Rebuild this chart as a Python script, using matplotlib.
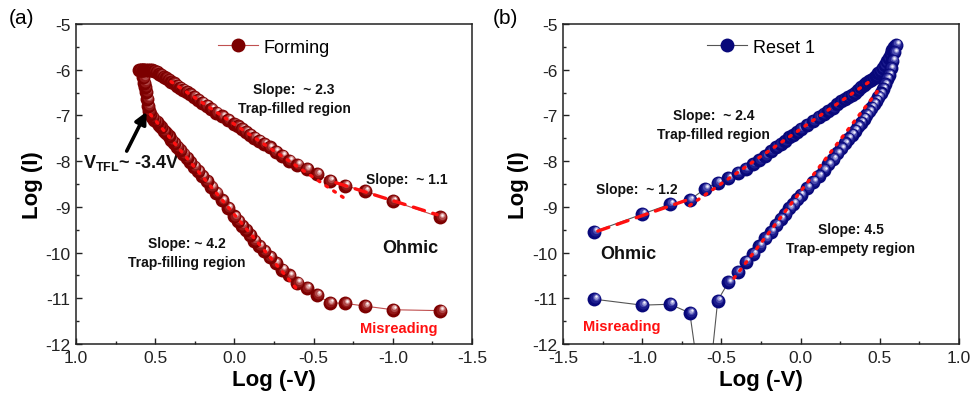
"""Forming / Reset 1 log-log I-V curves with SCLC slope fits."""

import matplotlib
matplotlib.use("Agg")
import matplotlib.pyplot as plt
import numpy as np
from matplotlib.lines import Line2D
from matplotlib.ticker import MultipleLocator
from matplotlib.transforms import ScaledTranslation

plt.rcParams["font.family"] = ["Liberation Sans", "DejaVu Sans"]
plt.rcParams["axes.unicode_minus"] = False
plt.rcParams["mathtext.fontset"] = "custom"
plt.rcParams["mathtext.rm"] = "Liberation Sans:bold"
plt.rcParams["mathtext.bf"] = "Liberation Sans:bold"

# ---- data: sweep voltages (V) and log10 current ----
# Forming: up-sweep on the lower branch, compliance at 1 uA, down-sweep on the upper branch
FORM_V = [0.05, 0.10, 0.15, 0.20, 0.25, 0.30, 0.35, 0.40, 0.45, 0.50,
          0.55, 0.60, 0.65, 0.70, 0.75, 0.80, 0.85, 0.90, 0.95, 1.00,
          1.1, 1.2, 1.3, 1.4, 1.5, 1.6, 1.7, 1.8, 1.9, 2.0,
          2.1, 2.2, 2.3, 2.4, 2.5, 2.6, 2.7, 2.8, 2.9, 3.0,
          3.1, 3.2, 3.3, 3.4, 3.45, 3.5, 3.55, 3.6, 3.65, 3.7,
          3.75, 3.8, 3.9, 4.0,
          3.9, 3.8, 3.7, 3.6, 3.5, 3.4, 3.3,
          3.2, 3.1, 3.0, 2.9, 2.8, 2.7, 2.6, 2.5, 2.4, 2.3,
          2.2, 2.1, 2.0, 1.9, 1.8, 1.7, 1.6, 1.5, 1.4, 1.3,
          1.2, 1.1, 1.00, 0.95, 0.90, 0.85, 0.80, 0.75, 0.70, 0.65,
          0.60, 0.55, 0.50, 0.45, 0.40, 0.35, 0.30, 0.25, 0.20, 0.15,
          0.10, 0.05]
FORM_LOGI = [-11.27, -11.25, -11.17, -11.11, -11.10, -10.93, -10.78, -10.66, -10.50, -10.37,
             -10.23, -10.10, -9.97, -9.86, -9.74, -9.62, -9.51, -9.41, -9.31, -9.21,
             -9.03, -8.86, -8.70, -8.57, -8.44, -8.33, -8.22, -8.12, -8.02, -7.93,
             -7.84, -7.76, -7.68, -7.60, -7.53, -7.46, -7.39, -7.33, -7.26, -7.20,
             -7.14, -7.09, -7.03, -6.97, -6.90, -6.79, -6.64, -6.49, -6.38, -6.28,
             -6.17, -6.00, -6.00, -6.00,
             -6.00, -6.00, -6.00, -6.00, -6.00, -6.00, -6.00,
             -6.02, -6.05, -6.09, -6.12, -6.15, -6.19, -6.23, -6.26, -6.30, -6.35,
             -6.39, -6.44, -6.49, -6.54, -6.60, -6.66, -6.72, -6.79, -6.86, -6.94,
             -7.02, -7.10, -7.19, -7.24, -7.30, -7.36, -7.42, -7.49, -7.55, -7.63,
             -7.70, -7.79, -7.88, -7.99, -8.08, -8.17, -8.28, -8.43, -8.54, -8.65,
             -8.87, -9.23]

# Reset 1: up-sweep on the upper branch, return on the steep lower branch
RESET_V = [0.05, 0.10, 0.15, 0.20, 0.25, 0.30, 0.35, 0.40, 0.45, 0.50,
           0.55, 0.60, 0.65, 0.70, 0.75, 0.80, 0.85, 0.90, 0.95, 1.00,
           1.1, 1.2, 1.3, 1.4, 1.5, 1.6, 1.7, 1.8, 1.9, 2.0,
           2.1, 2.2, 2.3, 2.4, 2.5, 2.6, 2.7, 2.8, 2.9, 3.0,
           3.1, 3.2, 3.3, 3.4, 3.5, 3.6, 3.7, 3.8, 3.9, 4.0,
           3.9, 3.8, 3.7, 3.6, 3.5, 3.4, 3.3, 3.2, 3.1, 3.0,
           2.9, 2.8, 2.7, 2.6, 2.5, 2.4, 2.3, 2.2, 2.1, 2.0,
           1.9, 1.8, 1.7, 1.6, 1.5, 1.4, 1.3, 1.2, 1.1, 1.00,
           0.95, 0.90, 0.85, 0.80, 0.75, 0.70, 0.65, 0.60, 0.55, 0.50,
           0.45, 0.40, 0.35, 0.30, 0.25, 0.20, 0.15, 0.10, 0.05]
RESET_LOGI = [-9.54, -9.16, -8.94, -8.85, -8.60, -8.47, -8.37, -8.26, -8.17, -8.06,
              -7.97, -7.88, -7.77, -7.69, -7.62, -7.55, -7.48, -7.42, -7.36, -7.30,
              -7.21, -7.12, -7.04, -6.97, -6.90, -6.83, -6.76, -6.68, -6.63, -6.60,
              -6.56, -6.50, -6.44, -6.38, -6.33, -6.29, -6.25, -6.22, -6.18, -6.13,
              -6.08, -6.03, -5.97, -5.90, -5.82, -5.74, -5.65, -5.57, -5.50, -5.45,
              -5.62, -5.80, -5.97, -6.12, -6.20, -6.32, -6.42, -6.52, -6.60, -6.68,
              -6.75, -6.83, -6.91, -6.99, -7.07, -7.16, -7.24, -7.33, -7.42, -7.51,
              -7.61, -7.72, -7.83, -7.95, -8.07, -8.20, -8.33, -8.45, -8.58, -8.74,
              -8.83, -8.93, -9.03, -9.15, -9.27, -9.40, -9.54, -9.69, -9.85, -10.03,
              -10.20, -10.43, -10.65, -11.05, -13.70, -11.32, -11.13, -11.15, -11.02]

# linear fits (log-V, log-I end points)
FORM_FIT_TF_X, FORM_FIT_TF_Y = [0.40, -0.69], [-6.26, -8.80]      # slope ~2.3
FORM_FIT_OHM_X, FORM_FIT_OHM_Y = [-0.64, -1.28], [-8.47, -9.17]   # slope ~1.1
FORM_FIT_TFL_X, FORM_FIT_TFL_Y = [0.53, -0.39], [-6.98, -10.78]   # slope ~4.2
RESET_FIT_OHM_X, RESET_FIT_OHM_Y = [-1.28, -0.70], [-9.53, -8.83]  # slope ~1.2
RESET_FIT_TF_X, RESET_FIT_TF_Y = [-0.70, 0.46], [-8.97, -6.20]     # slope ~2.4
RESET_FIT_TE_X, RESET_FIT_TE_Y = [-0.42, 0.49], [-10.56, -6.45]    # slope 4.5

MS = 10.0
RED_SHADES = ["#7c0000", "#931818", "#b04848", "#dba0a0", "#fdf2f2"]
BLUE_SHADES = ["#08087a", "#1d1d8e", "#4a4aae", "#a0a0d8", "#f2f2fc"]
FIT_RED = "#ff1010"

fig = plt.figure(figsize=(9.77, 4.06), dpi=100)
ax_a = fig.add_axes([0.0778, 0.1502, 0.4053, 0.7882])
ax_b = fig.add_axes([0.5762, 0.1502, 0.4053, 0.7882])


def draw_balls(ax, xs, ys, shades, z0=3.0):
    """Shaded spheres: dark base plus offset highlight discs, drawn point by point."""
    layers = [(7.2, 0.5, 0.7), (5.2, 0.9, 1.3), (3.3, 1.2, 1.7), (1.7, 1.4, 2.0)]
    for i, (x, y) in enumerate(zip(xs, ys)):
        z = z0 + i * 1e-3
        ax.plot([x], [y], "o", ms=MS, mfc=shades[0], mec="none", zorder=z)
        for k, (ms, dx, dy) in enumerate(layers):
            tr = ax.transData + ScaledTranslation(dx / 72, dy / 72, fig.dpi_scale_trans)
            ax.plot([x], [y], "o", ms=ms, mfc=shades[k + 1], mec="none",
                    zorder=z + (k + 1) * 1e-4, transform=tr)


def style_axes(ax, xlim, xticks):
    ax.set_xlim(*xlim)
    ax.set_ylim(-12, -5)
    ax.set_xticks(xticks)
    ax.set_xticklabels([f"{t:.1f}" for t in xticks])
    ax.set_yticks(range(-12, -4))
    ax.xaxis.set_minor_locator(MultipleLocator(0.25))
    ax.yaxis.set_minor_locator(MultipleLocator(0.5))
    ax.tick_params(which="both", direction="in", top=False, right=False,
                   width=1.0, labelsize=12.5, colors="#222222")
    ax.tick_params(which="major", length=4.5, pad=4)
    ax.tick_params(which="minor", length=2.5)
    for s in ax.spines.values():
        s.set_linewidth(1.1)
        s.set_color("#222222")
    ax.set_xlabel("Log (-V)", fontsize=16, fontweight="bold", labelpad=3)
    ax.set_ylabel("Log (I)", fontsize=16, fontweight="bold", labelpad=2)


def fit_line(ax, xs, ys, dotted=True):
    ls = (0, (0.6, 2.2)) if dotted else (0, (3.5, 2.6))
    ax.plot(xs, ys, color=FIT_RED, lw=2.4, ls=ls, dash_capstyle="round",
            solid_capstyle="round", zorder=20)


# ---- (a) Forming ----
fx = np.log10(FORM_V)
ax_a.plot(fx, FORM_LOGI, color="#c05050", lw=0.8, zorder=2)
draw_balls(ax_a, fx, FORM_LOGI, RED_SHADES)
fit_line(ax_a, FORM_FIT_TF_X, FORM_FIT_TF_Y)
fit_line(ax_a, FORM_FIT_TFL_X, FORM_FIT_TFL_Y)
fit_line(ax_a, FORM_FIT_OHM_X, FORM_FIT_OHM_Y, dotted=False)
style_axes(ax_a, (1.0, -1.5), [1.0, 0.5, 0.0, -0.5, -1.0, -1.5])

kw = dict(fontsize=10, fontweight="bold", ha="center", va="center", color="#111111")
ax_a.text(-0.376, -6.42, "Slope:  ~ 2.3", **kw)
ax_a.text(-0.376, -6.84, "Trap-filled region", **kw)
ax_a.text(-1.09, -8.39, "Slope:  ~ 1.1", **kw)
ax_a.text(0.30, -9.80, "Slope: ~ 4.2", **kw)
ax_a.text(0.30, -10.21, "Trap-filling region", **kw)
ax_a.text(-1.11, -9.89, "Ohmic", fontsize=13, fontweight="bold", ha="center",
          va="center", color="#111111")
ax_a.text(-1.035, -11.64, "Misreading", fontsize=10.5, fontweight="bold",
          ha="center", va="center", color=FIT_RED)
ax_a.text(0.955, -8.02, r"V$_{\mathbf{TFL}}$~ -3.4V", fontsize=13,
          fontweight="bold", ha="left", va="center", color="#111111")
ax_a.annotate("", xy=(0.555, -6.92), xytext=(0.68, -7.78),
              arrowprops=dict(arrowstyle="-|>,head_length=0.7,head_width=0.35",
                              color="black", lw=2.6, shrinkA=0, shrinkB=0),
              zorder=25)

h_a = Line2D([], [], color="#c05050", lw=0.8, marker="o", ms=MS,
             mfc=RED_SHADES[0], mec="none")
ax_a.legend([h_a], ["Forming"], loc="upper center", bbox_to_anchor=(0.5, 1.005),
            frameon=False, fontsize=13, handlelength=2.2, handletextpad=0.3)

# ---- (b) Reset 1 ----
rx = np.log10(RESET_V)
ax_b.plot(rx, RESET_LOGI, color="#555555", lw=0.8, zorder=2)
draw_balls(ax_b, rx, RESET_LOGI, BLUE_SHADES)
fit_line(ax_b, RESET_FIT_TF_X, RESET_FIT_TF_Y)
fit_line(ax_b, RESET_FIT_TE_X, RESET_FIT_TE_Y)
fit_line(ax_b, RESET_FIT_OHM_X, RESET_FIT_OHM_Y, dotted=False)
style_axes(ax_b, (-1.5, 1.0), [-1.5, -1.0, -0.5, 0.0, 0.5, 1.0])

ax_b.text(-0.551, -7.00, "Slope:  ~ 2.4", **kw)
ax_b.text(-0.551, -7.41, "Trap-filled region", **kw)
ax_b.text(-1.035, -8.61, "Slope:  ~ 1.2", **kw)
ax_b.text(0.317, -9.48, "Slope: 4.5", **kw)
ax_b.text(0.317, -9.90, "Trap-empety region", **kw)
ax_b.text(-1.09, -10.02, "Ohmic", fontsize=13, fontweight="bold", ha="center",
          va="center", color="#111111")
ax_b.text(-1.13, -11.61, "Misreading", fontsize=10.5, fontweight="bold",
          ha="center", va="center", color=FIT_RED)

h_b = Line2D([], [], color="#555555", lw=0.8, marker="o", ms=MS,
             mfc=BLUE_SHADES[0], mec="none")
ax_b.legend([h_b], ["Reset 1"], loc="upper center", bbox_to_anchor=(0.5, 1.005),
            frameon=False, fontsize=13, handlelength=2.2, handletextpad=0.3)

fig.text(0.022, 0.955, "(a)", fontsize=15, ha="center", va="center")
fig.text(0.517, 0.955, "(b)", fontsize=15, ha="center", va="center")

fig.savefig("out.png", dpi=100)
